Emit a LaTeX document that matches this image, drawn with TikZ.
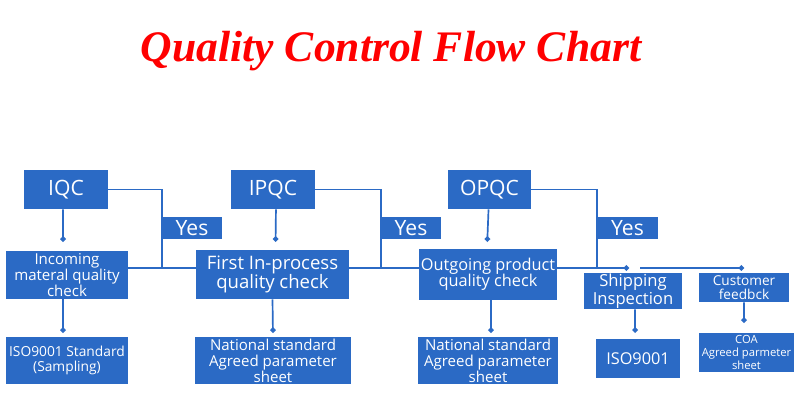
\documentclass[tikz,border=0pt]{standalone}
\usepackage{fontspec}
\setmainfont{Open Sans}
\newfontfamily\titlefont{Liberation Serif}
\usepackage{xcolor}
\usetikzlibrary{arrows.meta,calc,positioning}
\definecolor{qcblue}{HTML}{2B6AC5}
\definecolor{qcred}{HTML}{FF0000}
\newcommand{\fsz}[2]{\fontsize{#1}{#2}\selectfont}

\begin{document}
\begin{tikzpicture}[x=0.025cm,y=-0.025cm,
  box/.style={fill=qcblue,text=white,inner sep=0pt,align=center},
  link/.style={draw=qcblue,line width=1.2pt},
  tolink/.style={link,-{Circle[length=3.8pt]}}]
  \useasboundingbox (0,0) rectangle (800,418);
  \node[anchor=base,text=qcred,font=\titlefont\bfseries\itshape\fsz{31}{36}] (title) at (391,62) {Quality Control Flow Chart};
  % top row
  \node[box,minimum width=2.1cm,minimum height=0.975cm,font=\fsz{15}{18}] (iqc) at (66,189.5) {IQC};
  \node[box,minimum width=2.1cm,minimum height=0.975cm,font=\fsz{15}{18}] (ipqc) at (273,189.5) {IPQC};
  \node[box,minimum width=2.075cm,minimum height=0.975cm,font=\fsz{15}{18}] (opqc) at (489.5,189.5) {OPQC};
  \node[box,minimum width=1.5cm,minimum height=0.55cm,font=\fsz{15}{18}] (yes1) at (192,228) {Yes};
  \node[box,minimum width=1.5cm,minimum height=0.55cm,font=\fsz{15}{18}] (yes2) at (411,228) {Yes};
  \node[box,minimum width=1.525cm,minimum height=0.55cm,font=\fsz{15}{18}] (yes3) at (627.5,228) {Yes};
  % checks
  \node[box,minimum width=3.05cm,minimum height=1.2cm,font=\fsz{10.7}{11.6}] (incoming) at (67,275) {Incoming\\materal quality\\check};
  \node[box,minimum width=3.825cm,minimum height=1.225cm,font=\fsz{13.2}{13.8}] (first) at (272.5,274.5) {First In-process\\quality check};
  \node[box,minimum width=3.45cm,minimum height=1.275cm,font=\fsz{11.6}{11.6}] (outgoing) at (488,274.5) {Outgoing product\\quality check};
  \node[box,minimum width=2.45cm,minimum height=0.9cm,font=\fsz{11.8}{12.6}] (shipping) at (633,291) {Shipping\\Inspection};
  \node[box,minimum width=2.25cm,minimum height=0.725cm,font=\fsz{9.7}{9.8}] (customer) at (744,287.5) {Customer\\feedbck};
  % standards
  \node[box,minimum width=3.025cm,minimum height=1.175cm,font=\fsz{9.8}{10.7}] (isostd) at (67,360.5) {ISO9001 Standard\\(Sampling)};
  \node[box,minimum width=3.9cm,minimum height=1.175cm,font=\fsz{10.7}{11.4}] (natone) at (273,360.5) {National standard\\Agreed parameter\\sheet};
  \node[box,minimum width=3.5cm,minimum height=1.175cm,font=\fsz{10.7}{11.4}] (nattwo) at (488,360.5) {National standard\\Agreed parameter\\sheet};
  \node[box,minimum width=2.1cm,minimum height=0.975cm,font=\fsz{11.6}{12}] (iso) at (638,358.5) {ISO9001};
  \node[box,minimum width=2.375cm,minimum height=0.975cm,font=\fsz{8}{9}] (coa) at (746.5,352.5) {COA\\Agreed parmeter\\sheet};
  % bus line
  \coordinate (bus) at (0,268);
  \draw[link] (incoming.east |- bus) -- (first.west |- bus);
  \draw[link] (first.east |- bus) -- (outgoing.west |- bus);
  \draw[tolink] (outgoing.east |- bus) -- ([xshift=-2.8pt]shipping.north |- bus);
  \draw[tolink] ([xshift=5pt]shipping.north |- bus) -- (customer.north |- bus);
  % yes branches
  \draw[link] (iqc.east) -| (yes1.west |- bus);
  \draw[link] (ipqc.east) -| (yes2.west |- bus);
  \draw[link] (opqc.east) -| (yes3.west |- bus);
  % drops
  \draw[tolink,shorten >=6.4pt] ([xshift=-2.1pt]iqc.south) -- ([xshift=-2.8pt]incoming.north);
  \draw[tolink,shorten >=2.8pt] ([xshift=-2.8pt]incoming.south) -- ([xshift=-2.8pt]isostd.north);
  \draw[tolink,shorten >=5.7pt] ([xshift=2.1pt]ipqc.south) -- ([xshift=2.1pt]first.north);
  \draw[tolink,shorten >=2.8pt] (first.south) -- (natone.north);
  \draw[tolink,shorten >=5pt] ([xshift=-0.7pt]opqc.south) -- ([xshift=-0.7pt]outgoing.north);
  \draw[tolink,shorten >=2.8pt] ([xshift=2.1pt]outgoing.south) -- ([xshift=2.1pt]nattwo.north);
  \draw[tolink,shorten >=4.3pt] ([xshift=1.4pt]shipping.south) -- ([xshift=-2.1pt]iso.north);
  \draw[tolink,shorten >=7.1pt] (customer.south) -- ([xshift=-1.8pt]coa.north);
\end{tikzpicture}
\end{document}
